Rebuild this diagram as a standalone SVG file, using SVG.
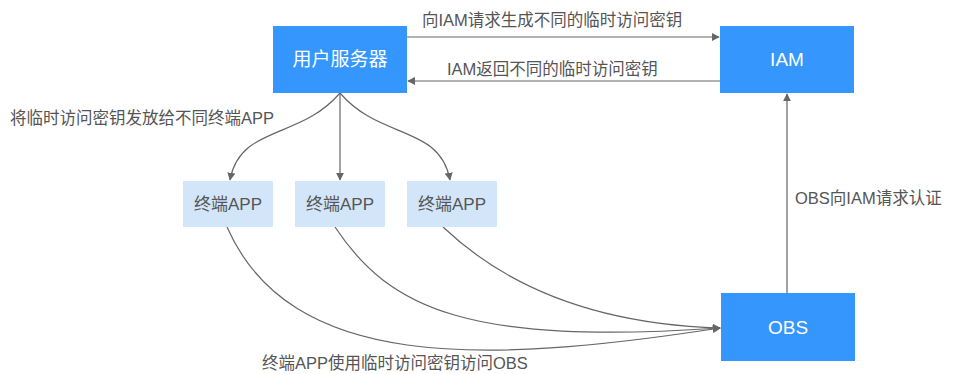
<svg xmlns="http://www.w3.org/2000/svg" width="953" height="374" viewBox="0 0 953 374">
<style>
text{font-family:"Liberation Sans","Noto Sans CJK SC",sans-serif}
.main{fill:#3596fd}
.app{fill:#d3e6f9}
.wt{fill:#fff;font-size:19px;text-anchor:middle}
.at{fill:#555;font-size:17px;text-anchor:middle}
.lb{fill:#555;font-size:16.5px}
.ln{fill:none;stroke:#666;stroke-width:1.2}
</style>
<defs>
<marker id="ar" viewBox="0 0 10 10" refX="9" refY="5" markerWidth="8" markerHeight="8" markerUnits="userSpaceOnUse" orient="auto">
<path d="M0,0 L10,5 L0,10 z" fill="#666"/>
</marker>
</defs>
<g id="connectors">
<line class="ln" x1="407" y1="37" x2="719" y2="37" marker-end="url(#ar)"/>
<line class="ln" x1="720" y1="81" x2="408" y2="81" marker-end="url(#ar)"/>
<line class="ln" x1="340" y1="93" x2="340" y2="180" marker-end="url(#ar)"/>
<path class="ln" d="M340,93 C300,140 240,125 230,180" marker-end="url(#ar)"/>
<path class="ln" d="M340,93 C380,140 440,125 450,180" marker-end="url(#ar)"/>
<line class="ln" x1="787" y1="293" x2="787" y2="94" marker-end="url(#ar)"/>
<path class="ln" d="M227,227 C290,370 480,365 720,328" marker-end="url(#ar)"/>
<path class="ln" d="M335,227 C390,310 470,345 720,328" marker-end="url(#ar)"/>
<path class="ln" d="M443,227 C520,300 620,325 720,328" marker-end="url(#ar)"/>
</g>
<g id="labels">
<text class="lb" x="422" y="26">向IAM请求生成不同的临时访问密钥</text>
<text class="lb" x="447" y="75">IAM返回不同的临时访问密钥</text>
<text class="lb" x="10" y="124">将临时访问密钥发放给不同终端APP</text>
<text class="lb" x="795" y="204">OBS向IAM请求认证</text>
<text class="lb" x="262" y="369">终端APP使用临时访问密钥访问OBS</text>
</g>
<g id="server">
<rect class="main" x="273" y="26" width="134" height="67"/>
<text class="wt" x="340" y="66">用户服务器</text>
</g>
<g id="iam">
<rect class="main" x="720" y="26" width="134" height="67"/>
<text class="wt" x="787" y="66">IAM</text>
</g>
<g id="obs">
<rect class="main" x="721" y="293" width="134" height="68"/>
<text class="wt" x="788" y="334">OBS</text>
</g>
<g id="app1">
<rect class="app" x="183" y="181" width="90" height="46"/>
<text class="at" x="228" y="210">终端APP</text>
</g>
<g id="app2">
<rect class="app" x="295" y="181" width="90" height="46"/>
<text class="at" x="340" y="210">终端APP</text>
</g>
<g id="app3">
<rect class="app" x="407" y="181" width="90" height="46"/>
<text class="at" x="452" y="210">终端APP</text>
</g>
</svg>
